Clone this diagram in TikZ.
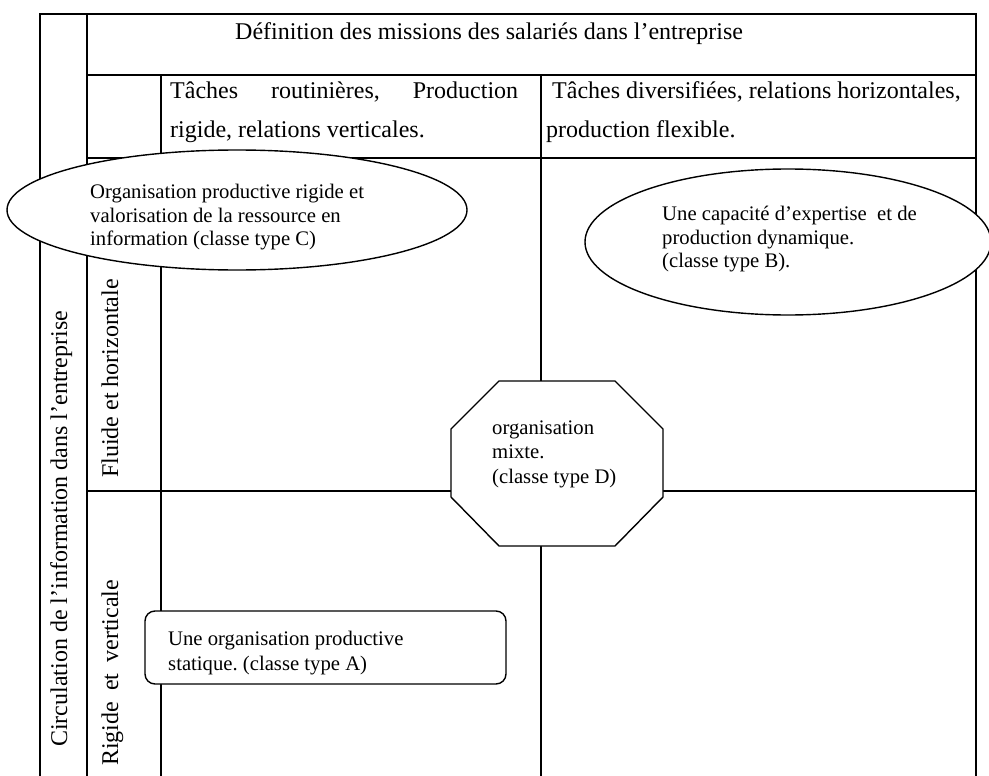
\documentclass[tikz,border=0pt]{standalone}
\usepackage{fontspec}
\setmainfont{Liberation Serif}
\frenchspacing
\begin{document}
\begin{tikzpicture}[x=1pt,y=-1pt,
  grid/.style={line width=1.8pt},
  shapeline/.style={line width=1.4pt, fill=white},
  big/.style={font=\fontsize{24}{28}\selectfont, inner sep=0pt},
  small/.style={font=\fontsize{20.7}{24}\selectfont, inner sep=0pt},
  vert/.style={big, rotate=90, anchor=base west}]
\useasboundingbox (0,0) rectangle (989,776);
% table grid
\coordinate (tl) at (40,14);
\coordinate (tr) at (976,14);
\draw[grid] (40,776) -- (tl) -- (tr) -- (976,776);
\draw[grid] (87,14) -- (87,776);
\draw[grid] (87,75) -- (976,75);
\draw[grid] (87,158) -- (976,158);
\draw[grid] (161,75) -- (161,776);
\draw[grid] (541,75) -- (541,776);
\draw[grid] (87,491) -- (976,491);
% shapes
\draw[shapeline] (237,210) ellipse [x radius=230pt, y radius=60pt];
\draw[shapeline] (788,242) ellipse [x radius=203pt, y radius=73pt];
\draw[shapeline] (499,381) -- (615,381) -- (663,429) -- (663,497) -- (615,546) -- (499,546) -- (451,497) -- (451,429) -- cycle;
\draw[shapeline, rounded corners=10pt] (145,611) rectangle (506,684);
% header texts
\node[big, anchor=base west] (h) at (235,40) {Définition des missions des salariés dans l’entreprise};
\node[big, anchor=base west] (l1) at (170,99) {\hbox to 348pt{Tâches\hfill routinières,\hfill Production}};
\node[big, anchor=base west] (l2) at (170,138) {rigide, relations verticales.};
\node[big, anchor=base west] (r1) at (552,99) {Tâches diversifiées, relations horizontales,};
\node[big, anchor=base west] (r2) at (546,138) {production flexible.};
% vertical texts
\node[vert] (circ) at (67,747) {Circulation de l’information dans l’entreprise};
\node[vert] (flu) at (118,478) {Fluide et horizontale};
\node[vert] (rig) at (118,766) {\hbox to 186pt{Rigide\hfill et\hfill verticale}};
% class C
\node[small, anchor=base west] (c1) at (90,198) {Organisation productive rigide et};
\node[small, anchor=base west] (c2) at (90,222) {valorisation de la ressource en};
\node[small, anchor=base west] (c3) at (90,245) {information (classe type C)};
% class B
\node[small, anchor=base west] (b1) at (662,220) {Une capacité d’expertise\ \ et de};
\node[small, anchor=base west] (b2) at (662,244) {production dynamique.};
\node[small, anchor=base west] (b3) at (662,267) {(classe type B).};
% class D
\node[small, anchor=base west] (d1) at (492,434) {organisation};
\node[small, anchor=base west] (d2) at (492,458) {mixte.};
\node[small, anchor=base west] (d3) at (492,483) {(classe type D)};
% class A
\node[small, anchor=base west] (a1) at (168,645) {Une organisation productive};
\node[small, anchor=base west] (a2) at (168,670) {statique. (classe type A)};
\end{tikzpicture}
\end{document}
